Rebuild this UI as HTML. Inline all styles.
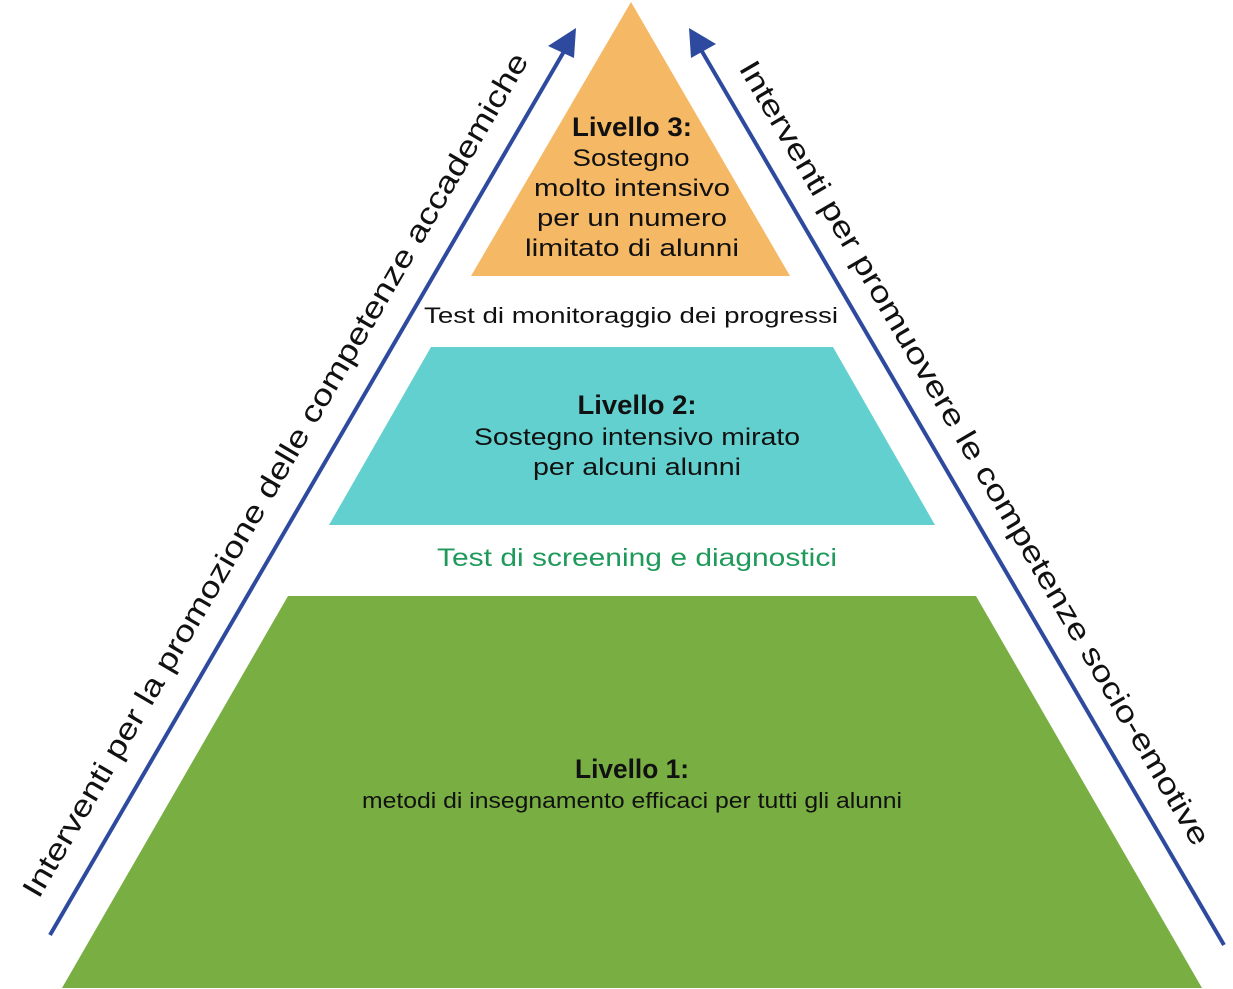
<!DOCTYPE html>
<html><head><meta charset="utf-8"><style>
html,body{margin:0;padding:0;background:#fff;}
svg{display:block;font-family:"Liberation Sans",sans-serif;}
</style></head><body>
<svg width="1233" height="989" viewBox="0 0 1233 989" xmlns="http://www.w3.org/2000/svg">
<polygon points="631,2 790,276 471,276" fill="#F5B865"/>
<polygon points="431,347 833,347 935,525 329,525" fill="#63D0D0"/>
<polygon points="288,596 976,596 1202,988 62,988" fill="#78AE42"/>

<line x1="50" y1="935" x2="566" y2="48" stroke="#2E4A9E" stroke-width="4"/>
<polygon points="576,28 548,46 574,58" fill="#2E4A9E"/>
<line x1="1224" y1="945" x2="700" y2="48" stroke="#2E4A9E" stroke-width="4"/>
<polygon points="689,28 691,58 716,44" fill="#2E4A9E"/>

<g fill="#111" text-anchor="middle">
<text x="632" y="136" font-size="27" font-weight="bold" textLength="120" lengthAdjust="spacingAndGlyphs">Livello 3:</text>
<text x="631" y="166" font-size="24" textLength="117" lengthAdjust="spacingAndGlyphs">Sostegno</text>
<text x="632" y="196" font-size="24" textLength="196" lengthAdjust="spacingAndGlyphs">molto intensivo</text>
<text x="632" y="226" font-size="24" textLength="190" lengthAdjust="spacingAndGlyphs">per un numero</text>
<text x="632" y="256" font-size="24" textLength="214" lengthAdjust="spacingAndGlyphs">limitato di alunni</text>
<text x="631" y="323" font-size="22" textLength="414" lengthAdjust="spacingAndGlyphs">Test di monitoraggio dei progressi</text>
<text x="637" y="414" font-size="27" font-weight="bold" textLength="119" lengthAdjust="spacingAndGlyphs">Livello 2:</text>
<text x="637" y="445" font-size="24" textLength="326" lengthAdjust="spacingAndGlyphs">Sostegno intensivo mirato</text>
<text x="637" y="475" font-size="24" textLength="208" lengthAdjust="spacingAndGlyphs">per alcuni alunni</text>
<text x="637" y="566" font-size="25" fill="#1F9A5A" textLength="400" lengthAdjust="spacingAndGlyphs">Test di screening e diagnostici</text>
<text x="632" y="778" font-size="27" font-weight="bold" textLength="114" lengthAdjust="spacingAndGlyphs">Livello 1:</text>
<text x="632" y="808" font-size="22" textLength="540" lengthAdjust="spacingAndGlyphs">metodi di insegnamento efficaci per tutti gli alunni</text>
<text transform="translate(284,480) rotate(-59.7)" font-size="30" textLength="972" lengthAdjust="spacingAndGlyphs">Interventi per la promozione delle competenze accademiche</text>
<text transform="translate(966,458) rotate(59.7)" font-size="30" textLength="903" lengthAdjust="spacingAndGlyphs">Interventi per promuovere le competenze socio-emotive</text>
</g>
</svg>
</body></html>
